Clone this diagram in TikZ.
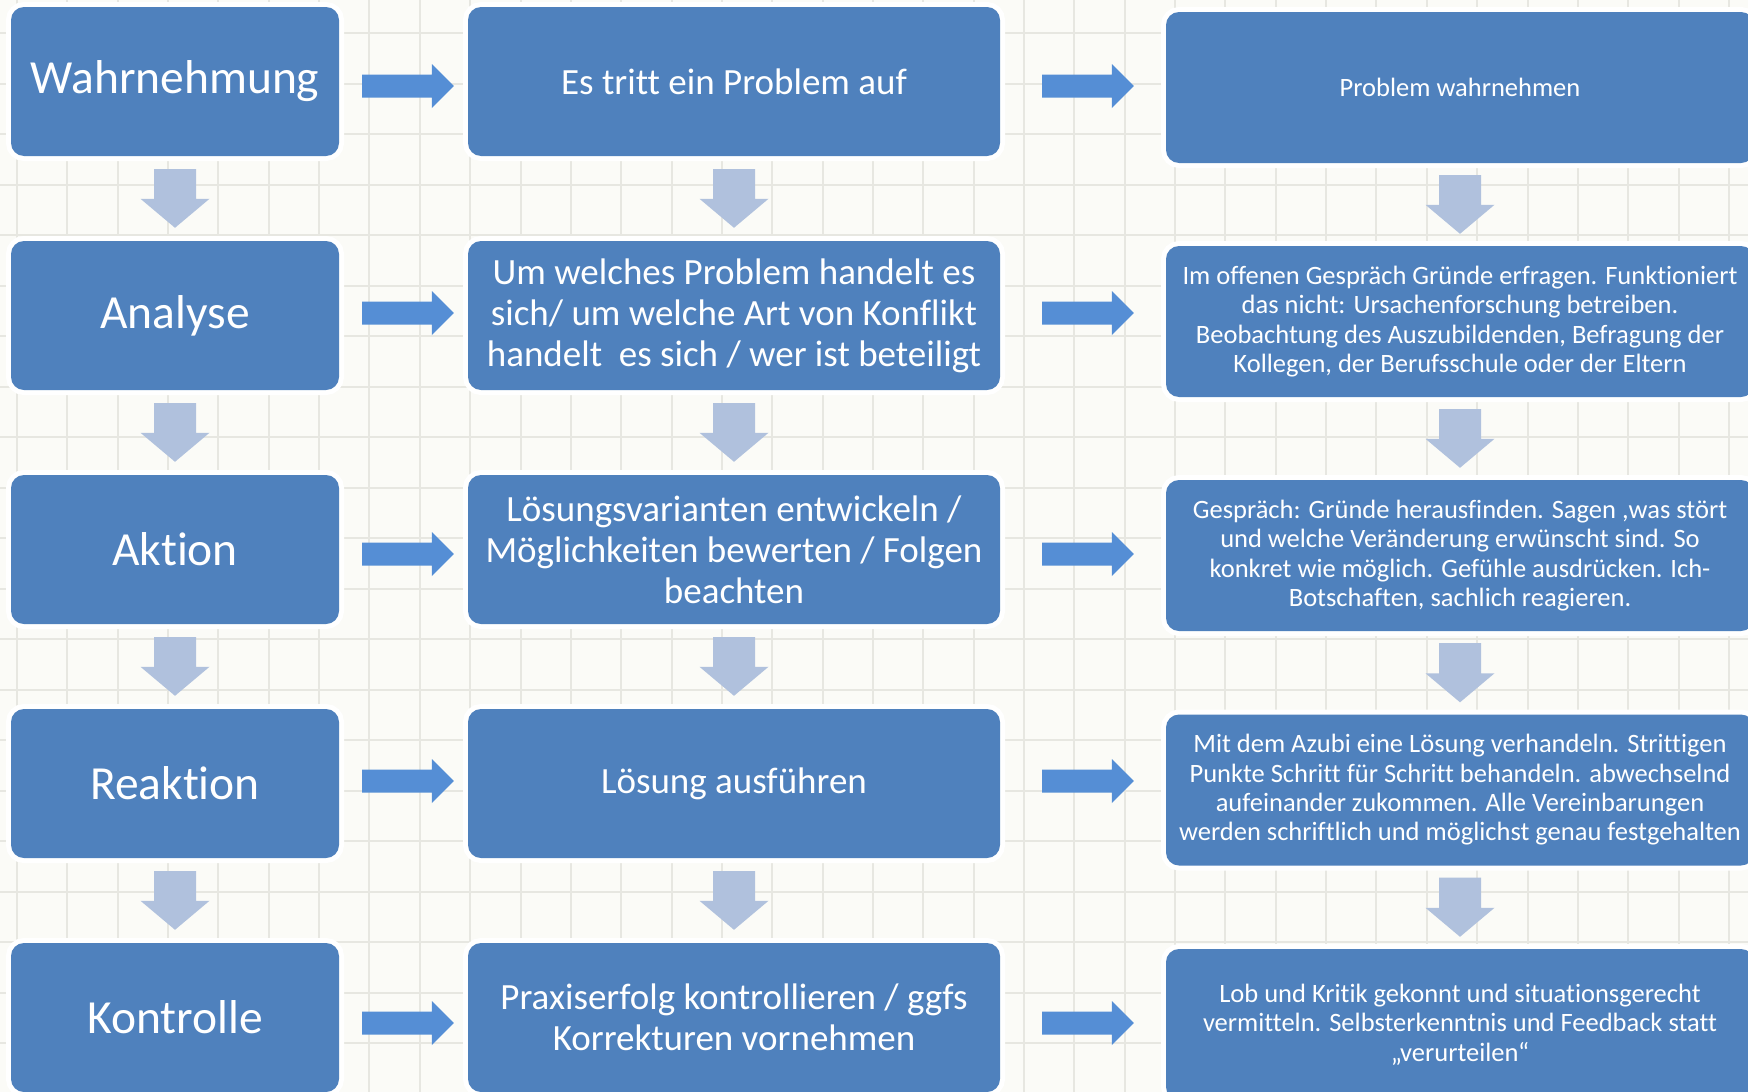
\documentclass[tikz,border=0pt]{standalone}
\usepackage{fontspec}
\setmainfont{Carlito}[Ligatures={NoCommon}]
\usetikzlibrary{calc}
\definecolor{bg}{HTML}{FBFBF7}
\definecolor{boxblue}{HTML}{4F81BD}
\definecolor{arrowblue}{HTML}{558ED5}
\definecolor{downblue}{HTML}{B0C1DD}
\definecolor{gridc}{HTML}{E7E7E1}
\tikzset{
  box/.style={fill=boxblue, rounded corners=13pt, preaction={draw=white, line width=10pt}, text=white, align=center, inner sep=0pt},
  colone/.style={box, minimum width=328pt, minimum height=149pt, font=\fontsize{47.5}{52}\selectfont},
  coltwo/.style={box, minimum width=532pt, minimum height=149pt, font=\fontsize{37}{41}\selectfont},
  colthree/.style={box, minimum width=588pt, minimum height=151pt, font=\fontsize{26.5}{29.3}\selectfont},
  gridline/.style={draw=gridc, line width=2pt},
}
\newcommand\rightblock[2]{\fill[arrowblue] let \p1=(#1), \p2=(#2) in
  (\x1,\y1+11.5pt) -- (\x2-22pt,\y1+11.5pt) -- (\x2-22pt,\y1+22pt) -- (\x2,\y1)
  -- (\x2-22pt,\y1-22pt) -- (\x2-22pt,\y1-11.5pt) -- (\x1,\y1-11.5pt) -- cycle;}
\newcommand\downblock[2]{\fill[downblue] let \p1=(#1), \p2=(#2) in
  (\x1-21pt,\y1) -- (\x1+21pt,\y1) -- (\x1+21pt,\y2+29pt) -- (\x1+34.5pt,\y2+29pt)
  -- (\x1,\y2) -- (\x1-34.5pt,\y2+29pt) -- (\x1-21pt,\y2+29pt) -- cycle;}
\begin{document}
\begin{tikzpicture}[x=1pt,y=-1pt]
\useasboundingbox (0,0) rectangle (1748,1092);
\clip (0,0) rectangle (1748,1092);
\fill[bg] (0,0) rectangle (1748,1092);
\foreach \k in {0,...,35} {\draw[gridline] ({17+50.35*\k},0) -- ({17+50.35*\k},1092);}
\foreach \k in {0,...,21} {\draw[gridline] (0,{33+50.5*\k}) -- (1748,{33+50.5*\k});}

% column 1
\node[colone] (w1) at (175,81.5) {Wahrnehmung};
\node[colone] (w2) at (175,315.5) {Analyse};
\node[colone] (w3) at (175,549.5) {Aktion};
\node[colone] (w4) at (175,783.5) {Reaktion};
\node[colone] (w5) at (175,1017.5) {Kontrolle};
% column 2
\node[coltwo] (m1) at (734,81.5) {Es tritt ein Problem auf};
\node[coltwo] (m2) at (734,315.5) {Um welches Problem handelt es\\sich/ um welche Art von Konflikt\\handelt~ es sich / wer ist beteiligt};
\node[coltwo] (m3) at (734,549.5) {Lösungsvarianten entwickeln /\\Möglichkeiten bewerten / Folgen\\beachten};
\node[coltwo] (m4) at (734,783.5) {Lösung ausführen};
\node[coltwo] (m5) at (734,1017.5) {Praxiserfolg kontrollieren / ggfs\\Korrekturen vornehmen};
% column 3
\node[colthree] (r1) at (1460,87.5) {Problem wahrnehmen};
\node[colthree] (r2) at (1460,321.5) {Im offenen Gespräch Gründe erfragen. Funktioniert\\das nicht: Ursachenforschung betreiben.\\Beobachtung des Auszubildenden, Befragung der\\Kollegen, der Berufsschule oder der Eltern};
\node[colthree] (r3) at (1460,555.5) {Gespräch: Gründe herausfinden. Sagen ,was stört\\und welche Veränderung erwünscht sind. So\\konkret wie möglich. Gefühle ausdrücken. Ich-\\Botschaften, sachlich reagieren.};
\node[colthree] (r4) at (1460,790) {Mit dem Azubi eine Lösung verhandeln. Strittigen\\Punkte Schritt für Schritt behandeln. abwechselnd\\aufeinander zukommen. Alle Vereinbarungen\\werden schriftlich und möglichst genau festgehalten};
\node[colthree] (r5) at (1460,1024.5) {Lob und Kritik gekonnt und situationsgerecht\\vermitteln. Selbsterkenntnis und Feedback statt\\„verurteilen“};

% right arrows
\foreach \i/\s in {1/-4.5pt,2/2.5pt,3/-4.5pt,4/2.5pt,5/-5.5pt} {
  \coordinate (as\i) at ([xshift=23pt,yshift=\s]w\i.east);
  \coordinate (ae\i) at ([xshift=-14pt,yshift=\s]m\i.west);
  \rightblock{as\i}{ae\i}
  \coordinate (bs\i) at ([xshift=42pt,yshift=\s]m\i.east);
  \coordinate (be\i) at ([xshift=-32pt,yshift=\s]r\i.west);
  \rightblock{bs\i}{be\i}
}
% down arrows
\foreach \i/\j in {1/2,2/3,3/4,4/5} {
  \coordinate (ds\i) at ([yshift=-13pt]w\i.south);
  \coordinate (de\i) at ([yshift=13pt]w\j.north);
  \downblock{ds\i}{de\i}
  \coordinate (es\i) at ([yshift=-13pt]m\i.south);
  \coordinate (ee\i) at ([yshift=13pt]m\j.north);
  \downblock{es\i}{ee\i}
  \coordinate (fs\i) at ([yshift=-12pt]r\i.south);
  \coordinate (fe\i) at ([yshift=12pt]r\j.north);
  \downblock{fs\i}{fe\i}
}
\end{tikzpicture}
\end{document}
